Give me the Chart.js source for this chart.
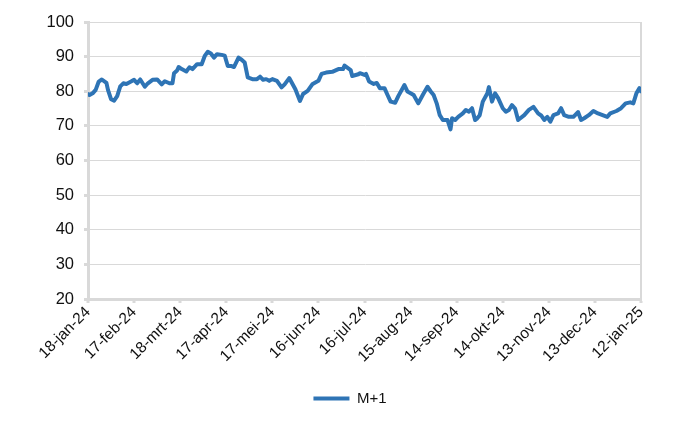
<!DOCTYPE html>
<html>
<head>
<meta charset="utf-8">
<script src="https://cdn.jsdelivr.net/npm/chart.js@4.4.1/dist/chart.umd.min.js"></script>
<style>
  html, body { margin: 0; padding: 0; background: #fff; }
  #wrap { width: 700px; height: 430px; }
</style>
</head>
<body>
<div id="wrap"><canvas id="mChart" width="700" height="430"></canvas></div>
<script>
// days since 18-jan-24
const days = [
  0, 1, 3, 5, 7, 9, 12, 13, 15, 17, 19, 21, 23, 25, 28, 30, 32, 34, 37, 39,
  42, 45, 48, 50, 53, 55, 56, 58, 59, 61, 64, 66, 68, 71, 74, 76, 78, 80, 82, 84,
  87, 89, 91, 93, 95, 98, 100, 102, 104, 107, 110, 112, 114, 116, 118, 120, 123, 126, 128, 131,
  135, 138, 140, 143, 146, 150, 152, 155, 159, 163, 166, 167, 171, 172, 176, 177, 180, 181, 183, 186,
  188, 190, 193, 195, 197, 200, 202, 206, 208, 212, 215, 218, 221, 223, 225, 227, 229, 231, 234, 236,
  237, 239, 241, 244, 246, 248, 250, 252, 253, 255, 257, 260, 261, 263, 265, 267, 270, 272, 274, 276,
  278, 280, 284, 287, 290, 293, 295, 297, 299, 301, 303, 306, 308, 310, 313, 316, 319, 321, 323, 326,
  329, 332, 335, 338, 340, 344, 347, 350, 353, 355, 357, 359, 360
];

const m1 = [
  79.2, 78.9, 79.4, 80.4, 82.8, 83.4, 82.4, 80.4, 77.7, 77.3, 78.6, 81.4, 82.3, 82.1, 82.8, 83.3, 82.3, 83.4, 81.3, 82.3,
  83.3, 83.4, 82.0, 82.9, 82.3, 82.3, 85.2, 86.0, 87.0, 86.4, 85.7, 86.9, 86.4, 87.8, 87.8, 90.2, 91.4, 90.9, 89.7, 90.7,
  90.5, 90.3, 87.3, 87.3, 87.0, 89.7, 89.1, 88.3, 84.0, 83.5, 83.5, 84.2, 83.3, 83.5, 83.0, 83.5, 83.0, 81.1, 82.0, 83.8,
  80.6, 77.2, 79.2, 80.1, 82.0, 83.0, 85.0, 85.4, 85.6, 86.4, 86.4, 87.4, 86.1, 84.4, 84.9, 85.2, 84.7, 85.0, 82.8, 82.1,
  82.4, 80.9, 80.9, 78.9, 77.0, 76.7, 78.6, 81.8, 79.9, 78.9, 76.5, 79.0, 81.3, 80.0, 78.9, 76.5, 73.1, 71.7, 71.7, 69.0,
  72.2, 71.7, 72.6, 73.6, 74.6, 74.1, 75.1, 71.7, 72.0, 73.1, 77.0, 79.4, 81.2, 77.0, 79.4, 78.0, 75.1, 74.1, 74.6, 76.0,
  75.0, 71.7, 73.1, 74.6, 75.5, 73.6, 73.0, 71.7, 72.6, 71.2, 73.1, 73.6, 75.1, 73.1, 72.6, 72.6, 74.0, 71.7, 72.2, 73.1,
  74.3, 73.6, 73.1, 72.6, 73.6, 74.3, 75.1, 76.5, 76.8, 76.5, 79.4, 80.9, 80.0
];

const tickLabels = [
  "18-jan-24", "17-feb-24", "18-mrt-24", "17-apr-24", "17-mei-24", "16-jun-24", "16-jul-24",
  "15-aug-24", "14-sep-24", "14-okt-24", "13-nov-24", "13-dec-24", "12-jan-25"
];
const seriesName = "M+1";

const lineColor = "#2e74b5";
const gridColor = "#d9d9d9";
const textColor = "#111";
const fontFamily = "'Liberation Sans', Arial, sans-serif";

const points = days.map((d, i) => ({ x: d, y: m1[i] }));

// legend sits centred on the whole page, not on the (left-shifted) layout box
const legendShift = {
  id: "legendShift",
  afterLayout(chart) {
    const lg = chart.legend;
    if (!lg) return;
    const dx = 350 - (lg.left + lg.right) / 2;
    lg.left += dx;
    lg.right += dx;
  },
};

const ctx = document.getElementById("mChart").getContext("2d");
new Chart(ctx, {
  type: "line",
  data: {
    datasets: [
      {
        label: seriesName,
        data: points,
        borderColor: lineColor,
        backgroundColor: lineColor,
        borderWidth: 4,
        pointRadius: 0,
        tension: 0,
        borderJoinStyle: "round",
        borderCapStyle: "round",
        fill: false,
      },
    ],
  },
  plugins: [legendShift],
  options: {
    responsive: false,
    animation: false,
    layout: {
      padding: { top: 22, right: 59, bottom: 14, left: 0 },
    },
    plugins: {
      tooltip: { enabled: false },
      legend: {
        position: "bottom",
        labels: {
          color: textColor,
          font: { family: fontFamily, size: 15 },
          boxWidth: 36,
          boxHeight: 4,
          padding: 10,
          generateLabels: function (chart) {
            return [
              {
                text: seriesName,
                fillStyle: lineColor,
                strokeStyle: lineColor,
                lineWidth: 0,
                fontColor: textColor,
                datasetIndex: 0,
              },
            ];
          },
        },
      },
    },
    scales: {
      x: {
        type: "linear",
        min: 0,
        max: 360,
        afterFit: function (scale) {
          scale.height = 82;
        },
        border: { display: true, color: gridColor, width: 3 },
        grid: {
          drawOnChartArea: true,
          color: function (c) {
            return c.index === tickLabels.length - 1 ? gridColor : "rgba(0,0,0,0)";
          },
          lineWidth: 2,
          tickColor: gridColor,
          tickLength: 4,
          tickWidth: 3,
        },
        ticks: {
          stepSize: 30,
          autoSkip: false,
          minRotation: 45,
          maxRotation: 45,
          padding: 0,
          color: textColor,
          font: { family: fontFamily, size: 15.5 },
          callback: function (value) {
            return tickLabels[Math.round(value / 30)];
          },
        },
      },
      y: {
        min: 20,
        max: 100,
        afterFit: function (scale) {
          scale.width = 88;
        },
        border: { display: true, color: gridColor, width: 3 },
        grid: {
          color: gridColor,
          lineWidth: 1,
          tickColor: gridColor,
          tickLength: 4,
          tickWidth: 3,
        },
        ticks: {
          stepSize: 10,
          padding: 10,
          color: textColor,
          font: { family: fontFamily, size: 16.5 },
        },
      },
    },
  },
});
</script>
</body>
</html>
